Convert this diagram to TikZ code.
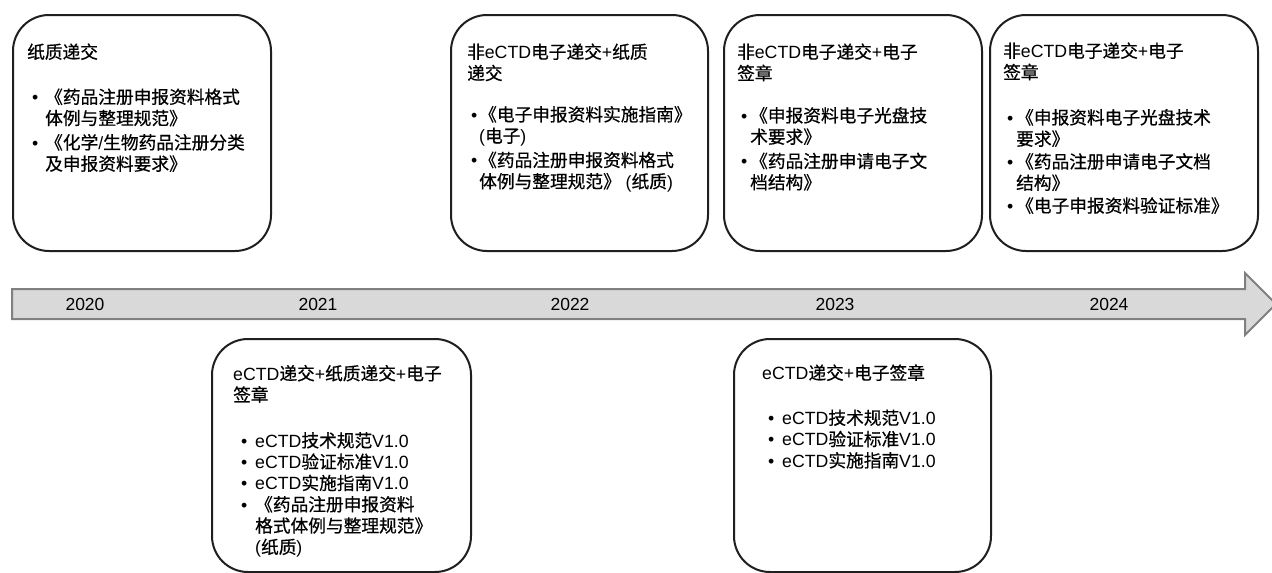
\documentclass[tikz,border=0pt]{standalone}
\usepackage{fontspec}
\setmainfont{Liberation Sans}
\newfontfamily\cjkf[FakeBold=0.6]{Noto Sans CJK SC}
\newcommand\z[1]{{\cjkf #1}}
\newdimen\bx \newdimen\tx
\newcommand\txtblock[1]{\vtop{\baselineskip=21.3pt\lineskiplimit=-100pt\lineskip=0pt #1}}
\newcommand\Ln[1]{\hbox{#1}}
\newcommand\Bl[1]{\hbox{\kern\bx\rlap{•}\kern\dimexpr\tx-\bx\relax #1}}
\newcommand\Cn[1]{\hbox{\kern\tx #1}}
\newcommand\Gap[1]{\vskip #1pt}
\tikzset{
  x=1pt, y=-1pt,
  box/.style={draw=black!88, line width=2pt, rounded corners=36pt, anchor=north west, inner sep=0pt},
  txt/.style={anchor=base west, inner sep=0pt, font=\fontsize{17.7}{21.3}\selectfont},
  year/.style={anchor=base, inner sep=0pt, font=\fontsize{17.5}{21}\selectfont},
  bar/.style={fill=black!15, draw=black!50, line width=2pt, line join=miter}
}
\begin{document}
\begin{tikzpicture}
\useasboundingbox (0,0) rectangle (1272,573);
\fill[white] (0,0) rectangle (1272,573);
\clip (0,0) rectangle (1272,573);

% timeline arrow
\draw[bar] (12,289) -- (1245,289) -- (1245,273) -- (1276,304) -- (1245,335) -- (1245,319) -- (12,319) -- cycle;
\node[year] (y2020) at (85,310.5) {2020};
\node[year] (y2021) at (318,310.5) {2021};
\node[year] (y2022) at (570,310.5) {2022};
\node[year] (y2023) at (835,310.5) {2023};
\node[year] (y2024) at (1109,310.5) {2024};

% boxes
\node[box, minimum width=258, minimum height=236] (b1) at (12,14) {};
\node[box, minimum width=257, minimum height=236] (b2) at (450,14) {};
\node[box, minimum width=258, minimum height=236] (b3) at (723,14) {};
\node[box, minimum width=268, minimum height=236] (b4) at (989,14) {};
\node[box, minimum width=259, minimum height=233] (b5) at (211,338) {};
\node[box, minimum width=257, minimum height=233] (b6) at (733,338) {};

% texts
\node[txt] (t1) at (27,58.5) {\bx=5pt\tx=18pt\txtblock{%
  \Ln{\z{纸质递交}}\Gap{23.7}
  \Bl{\z{《药品注册申报资料格式}}
  \Cn{\z{体例与整理规范》}}\Gap{3}
  \Bl{\z{《化学}/\z{生物药品注册分类}}
  \Cn{\z{及申报资料要求》}}}};

\node[txt] (t2) at (467,58.5) {\bx=4pt\tx=12pt\txtblock{%
  \Ln{\z{非}eCTD\z{电子递交}+\z{纸质}}
  \Ln{\z{递交}}\Gap{20}
  \Bl{\z{《电子申报资料实施指南》}}
  \Cn{(\z{电子})}\Gap{3}
  \Bl{\z{《药品注册申报资料格式}}
  \Cn{\z{体例与整理规范》} (\z{纸质})}}};

\node[txt] (t3) at (737,58.5) {\bx=4pt\tx=13pt\txtblock{%
  \Ln{\z{非}eCTD\z{电子递交}+\z{电子}}
  \Ln{\z{签章}}\Gap{21}
  \Bl{\z{《申报资料电子光盘技}}
  \Cn{\z{术要求》}}\Gap{3}
  \Bl{\z{《药品注册申请电子文}}
  \Cn{\z{档结构》}}}};

\node[txt] (t4) at (1003,57.5) {\bx=4pt\tx=13pt\txtblock{%
  \Ln{\z{非}eCTD\z{电子递交}+\z{电子}}
  \Ln{\z{签章}}\Gap{24}
  \Bl{\z{《申报资料电子光盘技术}}
  \Cn{\z{要求》}}\Gap{1.5}
  \Bl{\z{《药品注册申请电子文档}}
  \Cn{\z{结构》}}\Gap{1.5}
  \Bl{\z{《电子申报资料验证标准》}}}};

\node[txt] (t5) at (233,380) {\bx=8pt\tx=22pt\txtblock{%
  \Ln{eCTD\z{递交}+\z{纸质递交}+\z{电子}}
  \Ln{\z{签章}}\Gap{24.5}
  \Bl{eCTD\z{技术规范}V1.0}
  \Bl{eCTD\z{验证标准}V1.0}
  \Bl{eCTD\z{实施指南}V1.0}
  \Bl{\z{《药品注册申报资料}}
  \Cn{\z{格式体例与整理规范》}}
  \Cn{(\z{纸质})}}};

\node[txt] (t6) at (762,379.5) {\bx=6pt\tx=20pt\txtblock{%
  \Ln{eCTD\z{递交}+\z{电子签章}}\Gap{23.7}
  \Bl{eCTD\z{技术规范}V1.0}
  \Bl{eCTD\z{验证标准}V1.0}
  \Bl{eCTD\z{实施指南}V1.0}}};
\end{tikzpicture}
\end{document}
